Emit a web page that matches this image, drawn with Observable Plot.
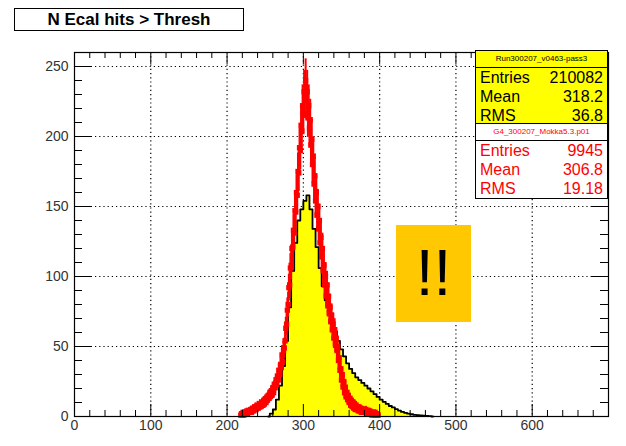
<!DOCTYPE html>
<html>
<head>
<meta charset="utf-8">
<script src="https://cdn.jsdelivr.net/npm/d3@7"></script>
<script src="https://cdn.jsdelivr.net/npm/@observablehq/plot@0.6"></script>
<style>
  body { margin: 0; background: #fff; font-family: "Liberation Sans", Arial, Helvetica, sans-serif; }
  #wrap { position: relative; width: 626px; height: 446px; overflow: hidden; }
  #chart { position: absolute; left: 0; top: 0; }
  .title { position: absolute; left: 14px; top: 8px; width: 228px; height: 21px; border: 1.5px solid #000;
           background: #fff; font-weight: bold; font-size: 17px; line-height: 21px; text-align: center; color: #000; }
  .stats { position: absolute; left: 475px; width: 133px; border: 1px solid #000; box-sizing: border-box; }
  .stats .head { height: 16px; line-height: 16px; font-size: 8px; text-align: center; border-bottom: 1px solid #000; }
  .stats .row { display: flex; justify-content: space-between; padding: 0 4px; font-size: 16px; height: 19px; line-height: 19px; }
  .alert { position: absolute; left: 396px; top: 225px; width: 75px; height: 97px; background: #ffc800;
           font-size: 64px; line-height: 97px; text-align: center; color: #000; }
</style>
</head>
<body>
<div id="wrap">
  <div id="chart"></div>
  <div class="title">N Ecal hits &gt; Thresh</div>
  <div id="statsData" class="stats" style="top:50px; background:#ffff00; color:#000;"></div>
  <div id="statsMc" class="stats" style="top:123px; background:#fff; color:#ff0000;"></div>
  <div class="alert">!!</div>
</div>
<script>
// Measured data histogram (yellow fill, black outline): bin centres and contents
const dataX = [254, 258, 262, 266, 270, 274, 278, 282, 286, 290, 294, 298, 302, 306, 310, 314, 318, 322, 326, 330,
               334, 338, 342, 346, 350, 354, 358, 362, 366, 370, 374, 378, 382, 386, 390, 394, 398, 402, 406, 410,
               414, 418, 422, 426, 430, 434, 438, 442, 446, 450, 454, 458, 462, 466, 470];
const dataY = [0, 2, 5, 12, 22, 36, 54, 78, 104, 124, 140, 148, 154, 158, 148, 134, 121, 106, 93, 83,
               75, 68, 61, 54, 48, 43, 38, 34, 31, 28, 26, 24, 22, 20, 18, 16, 14, 12, 10.5, 9,
               7.5, 6.5, 5.2, 4.2, 3.3, 2.6, 2, 1.6, 1.2, 1, 0.8, 0.6, 0.5, 0.3, 0];

// Simulation histogram (red points with statistical error bars), unit-width bins from 218 to 398
const mcFirstBin = 218;
const mcY = [
  1, 2, 1, 3, 1, 2, 3, 2, 4, 2, 3, 4,
  3, 5, 3, 4, 6, 4, 5, 7, 5, 6,
  8, 6, 7, 9, 7, 8, 10, 8, 11, 9,
  12, 10, 13, 12, 15, 13, 16, 15, 18, 16,
  20, 17, 23, 21, 24, 23, 29, 26, 33, 30,
  36, 35, 44, 39, 47, 49, 54, 63, 66, 76,
  80, 92, 94, 106, 108, 120, 121, 133, 131, 147,
  146, 160, 158, 175, 174, 192, 190, 208, 204, 222,
  216, 232, 228, 240, 226, 232, 214, 222, 206, 212,
  194, 198, 180, 186, 166, 172, 154, 160, 144, 150,
  134, 140, 124, 128, 114, 120, 104, 108, 94, 100,
  86, 94, 80, 86, 74, 78, 68, 72, 62, 66,
  56, 62, 52, 56, 48, 50, 40, 42, 33, 34,
  26, 30, 21, 25, 17, 21, 14, 17, 12, 15,
  10, 13, 8, 11, 7, 10, 6, 9, 5, 8,
  5, 7, 4, 6, 4, 6, 3, 5, 3, 5,
  4, 3, 5, 2, 4, 3, 2, 4, 2, 3,
  1, 3, 2, 1, 3, 1, 2, 1, 1
];

// Axis ticks
const xLabels = [0, 100, 200, 300, 400, 500, 600];
const yLabels = [0, 50, 100, 150, 200, 250];
const xGrid = [100, 200, 300, 400, 500, 600];
const yGrid = [50, 100, 150, 200, 250];
const xMinor = d3.range(0, 701, 20).filter(v => v % 100 !== 0);
const yMinor = d3.range(0, 261, 10).filter(v => v % 50 !== 0);

// Statistics panels
const dataStatsTitle = "Run300207_v0463-pass3";
const dataStats = [["Entries", "210082"], ["Mean", "318.2"], ["RMS", "36.8"]];
const mcStatsTitle = "G4_300207_Mokka5.3.p01";
const mcStats = [["Entries", "9945"], ["Mean", "306.8"], ["RMS", "19.18"]];

const dataHist = dataX.map((x, i) => ({x, y: dataY[i]}));
const mc = mcY.map((y, i) => ({x: mcFirstBin + i, y}));

const W = 626, H = 446;
const M = {top: 52, right: 18, bottom: 30, left: 74};
const innerW = W - M.left - M.right;
const innerH = H - M.top - M.bottom;
const red = "#ff0000";

const chart = Plot.plot({
  width: W,
  height: H,
  marginTop: M.top,
  marginRight: M.right,
  marginBottom: M.bottom,
  marginLeft: M.left,
  x: {domain: [0, 700]},
  y: {domain: [0, 260]},
  style: {fontFamily: "'Liberation Sans', Arial, Helvetica, sans-serif", fontSize: "14px", color: "#333", background: "transparent"},
  marks: [
    // dotted grid
    Plot.ruleX(xGrid, {x: d => d, stroke: "#000", strokeDasharray: "1.2,3", strokeWidth: 1.2}),
    Plot.ruleY(yGrid, {y: d => d, stroke: "#000", strokeDasharray: "1.2,3", strokeWidth: 1.2}),
    // data histogram
    Plot.areaY(dataHist, {x: "x", y: "y", curve: "step", fill: "#ffff00"}),
    Plot.lineY(dataHist, {x: "x", y: "y", curve: "step", stroke: "#000", strokeWidth: 1.8}),
    // simulation points with errors
    Plot.ruleX(mc, {x: "x", y1: d => Math.max(0, d.y - Math.sqrt(d.y)), y2: d => d.y + Math.sqrt(d.y), stroke: red, strokeWidth: 2}),
    Plot.dot(mc, {x: "x", y: "y", symbol: "square", r: 3, fill: red}),
    // inward ticks: bottom/top
    Plot.ruleX(xLabels, {x: d => d, insetTop: innerH - 12, stroke: "#000"}),
    Plot.ruleX(xMinor, {x: d => d, insetTop: innerH - 6, stroke: "#000"}),
    Plot.ruleX(xLabels, {x: d => d, insetBottom: innerH - 12, stroke: "#000"}),
    Plot.ruleX(xMinor, {x: d => d, insetBottom: innerH - 6, stroke: "#000"}),
    // inward ticks: left/right
    Plot.ruleY(yLabels, {y: d => d, insetRight: innerW - 17, stroke: "#000"}),
    Plot.ruleY(yMinor, {y: d => d, insetRight: innerW - 8, stroke: "#000"}),
    Plot.ruleY(yLabels, {y: d => d, insetLeft: innerW - 17, stroke: "#000"}),
    Plot.ruleY(yMinor, {y: d => d, insetLeft: innerW - 8, stroke: "#000"}),
    Plot.frame({stroke: "#000", strokeWidth: 1.2}),
    Plot.axisX(xLabels, {tickSize: 0, tickPadding: 4, label: null, fill: "#333"}),
    Plot.axisY(yLabels, {tickSize: 0, tickPadding: 6, label: null, fill: "#333"})
  ]
});
document.getElementById("chart").appendChild(chart);

function fillStats(id, title, rows) {
  const el = document.getElementById(id);
  const head = document.createElement("div");
  head.className = "head";
  head.textContent = title;
  el.appendChild(head);
  for (const [k, v] of rows) {
    const r = document.createElement("div");
    r.className = "row";
    const a = document.createElement("span"); a.textContent = k;
    const b = document.createElement("span"); b.textContent = v;
    r.appendChild(a); r.appendChild(b);
    el.appendChild(r);
  }
}
fillStats("statsData", dataStatsTitle, dataStats);
fillStats("statsMc", mcStatsTitle, mcStats);
</script>
</body>
</html>
